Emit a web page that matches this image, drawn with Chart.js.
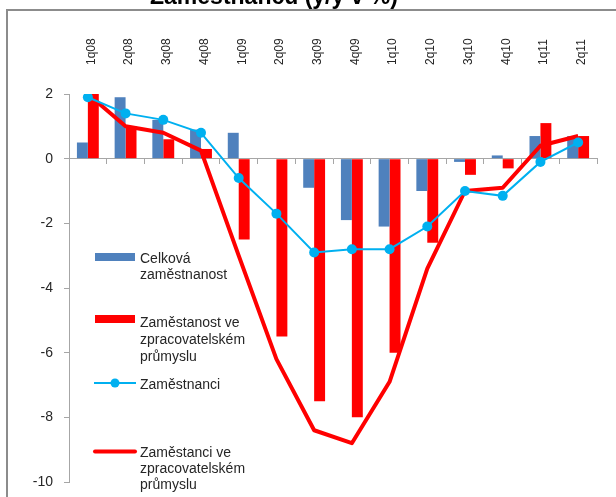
<!DOCTYPE html>
<html>
<head>
<meta charset="utf-8">
<script src="https://cdn.jsdelivr.net/npm/chart.js@4/dist/chart.umd.min.js"></script>
<style>
  html, body { margin: 0; padding: 0; width: 616px; height: 497px; overflow: hidden; background: #fff; }
  #frame { position: absolute; left: 6px; top: 9px; width: 700px; height: 600px;
           border-left: 2px solid #8c8c8c; border-top: 2px solid #8c8c8c; }
  #wrap { position: absolute; left: 0; top: -20px; width: 616px; height: 517px; }
</style>
</head>
<body>
<div id="frame"></div>
<div id="wrap"><canvas id="c" width="616" height="517"></canvas></div>
<script>
// ---- data ----
const TITLE = 'Zaměstnanců (y/y v %)';
const categories = ['1q08','2q08','3q08','4q08','1q09','2q09','3q09','4q09','1q10','2q10','3q10','4q10','1q11','2q11'];
const celkovaZamestnanost = [0.5, 1.9, 1.2, 0.9, 0.8, 0.0, -0.9, -1.9, -2.1, -1.0, -0.1, 0.1, 0.7, 0.7];
const zamestnanostZprac = [2.0, 1.0, 0.6, 0.3, -2.5, -5.5, -7.5, -8.0, -6.0, -2.6, -0.5, -0.3, 1.1, 0.7];
const zamestnanci = [1.9, 1.4, 1.2, 0.8, -0.6, -1.7, -2.9, -2.8, -2.8, -2.1, -1.0, -1.15, -0.1, 0.5];
const zamestnanciZprac = [2.0, 1.0, 0.8, 0.25, -3.0, -6.2, -8.4, -8.8, -6.9, -3.4, -1.0, -0.9, 0.4, 0.7];
const yTicks = [-10, -8, -6, -4, -2, 0, 2];
const seriesLabels = [
  ['Celková', 'zaměstnanost'],
  ['Zaměstanost ve', 'zpracovatelském', 'průmyslu'],
  ['Zaměstnanci'],
  ['Zaměstanci ve', 'zpracovatelském', 'průmyslu']
];

const OFF = 20; // canvas is shifted up by this many px
const FONT = '"Liberation Sans", Arial, sans-serif';
const TXT = '#262626';

const customDecor = {
  id: 'customDecor',
  afterDraw(chart) {
    const ctx = chart.ctx;
    ctx.save();
    // title (top is cut by the window edge)
    ctx.font = 'bold 23px ' + FONT;
    ctx.fillStyle = '#000';
    ctx.textAlign = 'center';
    ctx.textBaseline = 'alphabetic';
    ctx.fillText(TITLE, 274, 4 + OFF);

    // legend
    const ds = chart.data.datasets;
    ctx.font = '14px ' + FONT;
    ctx.textAlign = 'left';
    ctx.fillStyle = TXT;
    const tx = 140;
    const items = [
      {kind: 'rect', y: 257, h: 8, base: 263, lh: 16},
      {kind: 'rect', y: 319, h: 8, base: 326.7, lh: 17},
      {kind: 'marker', y: 383, base: 389, lh: 17},
      {kind: 'line', y: 451.5, base: 456.7, lh: 16.3}
    ];
    items.forEach((it, i) => {
      const d = ds[i];
      if (it.kind === 'rect') {
        ctx.fillStyle = d.backgroundColor;
        ctx.fillRect(95, it.y - it.h / 2 + OFF, 40, it.h);
      } else if (it.kind === 'marker') {
        ctx.strokeStyle = d.borderColor; ctx.lineWidth = 2;
        ctx.beginPath(); ctx.moveTo(94, it.y + OFF); ctx.lineTo(136, it.y + OFF); ctx.stroke();
        ctx.fillStyle = d.pointBackgroundColor;
        ctx.beginPath(); ctx.arc(115, it.y + OFF, 4.5, 0, Math.PI * 2); ctx.fill();
      } else {
        ctx.strokeStyle = d.borderColor; ctx.lineWidth = 4; ctx.lineCap = 'round';
        ctx.beginPath(); ctx.moveTo(95, it.y + OFF); ctx.lineTo(135, it.y + OFF); ctx.stroke();
      }
      ctx.fillStyle = TXT;
      seriesLabels[i].forEach((line, k) => {
        ctx.fillText(line, tx, it.base + k * it.lh + OFF);
      });
    });
    ctx.restore();
  }
};

new Chart(document.getElementById('c'), {
  type: 'bar',
  data: {
    labels: categories,
    datasets: [
      { type: 'bar', label: 'Celková zaměstnanost', data: celkovaZamestnanost,
        backgroundColor: '#4F81BD', borderWidth: 0, order: 2,
        categoryPercentage: 0.58, barPercentage: 1.0 },
      { type: 'bar', label: 'Zaměstanost ve zpracovatelském průmyslu', data: zamestnanostZprac,
        backgroundColor: '#FF0000', borderWidth: 0, order: 3,
        categoryPercentage: 0.58, barPercentage: 1.0 },
      { type: 'line', label: 'Zaměstnanci', data: zamestnanci,
        borderColor: '#00B0F0', backgroundColor: '#00B0F0', pointBackgroundColor: '#00B0F0',
        borderWidth: 2, pointRadius: 5, pointBorderWidth: 0, tension: 0, order: 0 },
      { type: 'line', label: 'Zaměstanci ve zpracovatelském průmyslu', data: zamestnanciZprac,
        borderColor: '#FF0000', backgroundColor: '#FF0000',
        borderWidth: 4, pointRadius: 0, tension: 0, order: 1, borderJoinStyle: 'round' }
    ]
  },
  options: {
    responsive: false,
    animation: false,
    events: [],
    layout: { padding: { left: 0, right: 19, top: 0, bottom: 15 } },
    plugins: { legend: { display: false }, title: { display: false }, tooltip: { enabled: false } },
    scales: {
      xTop: {
        type: 'category', labels: categories, position: 'top', offset: true,
        grid: { display: false, drawTicks: false },
        border: { display: false },
        ticks: { minRotation: 90, maxRotation: 90, autoSkip: false, padding: 29, labelOffset: 18,
                 font: { size: 12, family: FONT }, color: TXT },
        afterFit(s) { s.height = 94 + OFF; s.paddingLeft = 0; s.paddingRight = 0; }
      },
      x: {
        type: 'category', position: { y: 0 }, offset: true,
        grid: { drawOnChartArea: false, drawTicks: true, tickLength: 5, color: '#a6a6a6', offset: true },
        border: { color: '#a6a6a6', width: 1 },
        ticks: { display: false },
        afterFit(s) { s.paddingLeft = 0; s.paddingRight = 0; }
      },
      y: {
        min: -10, max: 2,
        afterBuildTicks(s) { s.ticks = yTicks.map(v => ({ value: v })); },
        grid: { drawOnChartArea: false, drawTicks: true, tickLength: 5, color: '#a6a6a6' },
        border: { color: '#a6a6a6', width: 1 },
        ticks: { padding: 11, font: { size: 14, family: FONT }, color: TXT },
        afterFit(s) { s.width = 69; s.paddingTop = 0; s.paddingBottom = 0; }
      }
    }
  },
  plugins: [customDecor]
});
</script>
</body>
</html>
